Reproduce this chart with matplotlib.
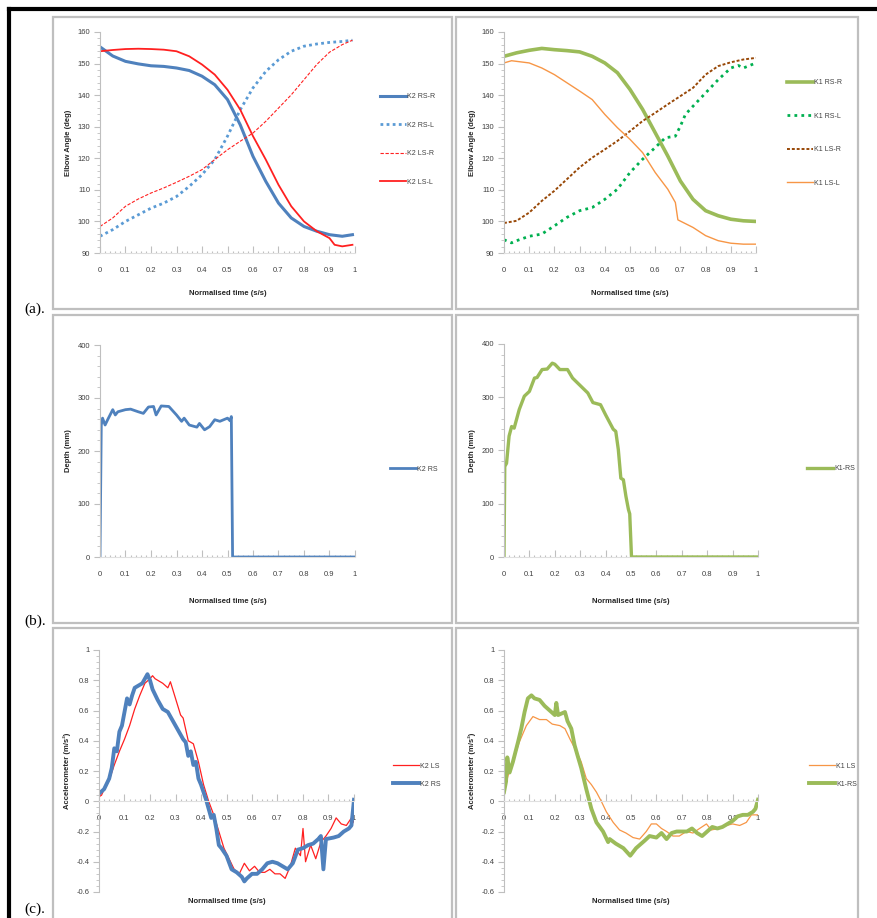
import matplotlib
matplotlib.use("Agg")
from matplotlib import pyplot as plt
from matplotlib.ticker import MultipleLocator, FormatStrFormatter
from matplotlib.patches import Rectangle
from matplotlib.lines import Line2D

plt.rcParams['font.family'] = ['Liberation Sans', 'DejaVu Sans']

# ---- (a) elbow angle, K2 (left) ----
t_k2_angle = [0, 0.05, 0.1, 0.15, 0.2, 0.25, 0.3, 0.35, 0.4, 0.45, 0.5,
              0.55, 0.6, 0.65, 0.7, 0.75, 0.8, 0.85, 0.9, 0.95, 0.99]
k2_rs_r = [155.3, 152.4, 150.7, 149.9, 149.3, 149.1, 148.6, 147.8, 146.0, 143.3, 138.6,
           130.6, 120.6, 112.7, 105.8, 101.1, 98.4, 96.9, 95.8, 95.3, 95.8]
k2_rs_l = [95.3, 97.4, 100.0, 102.1, 104.2, 105.8, 107.9, 111.1, 114.8, 119.6, 127.0,
           135.4, 142.3, 147.5, 151.2, 153.9, 155.5, 156.2, 156.7, 157.0, 157.4]
k2_ls_r = [98.4, 101.1, 104.8, 107.1, 109.0, 110.6, 112.4, 114.3, 116.4, 119.6, 122.7,
           125.4, 128.0, 131.7, 135.9, 140.1, 144.9, 149.7, 153.6, 156.0, 157.4]
t_k2_ls_l = [0, 0.05, 0.1, 0.15, 0.2, 0.25, 0.3, 0.35, 0.4, 0.45, 0.5,
             0.55, 0.6, 0.65, 0.7, 0.75, 0.8, 0.85, 0.9, 0.92, 0.95, 0.99]
k2_ls_l = [153.9, 154.3, 154.6, 154.7, 154.6, 154.4, 153.9, 152.3, 149.7, 146.5, 141.7,
           135.4, 127.0, 119.6, 111.6, 104.8, 100.0, 96.9, 94.7, 92.6, 92.1, 92.6]

# ---- (a) elbow angle, K1 (right) ----
t_k1_angle = [0, 0.05, 0.1, 0.15, 0.2, 0.25, 0.3, 0.35, 0.4, 0.45, 0.5,
              0.55, 0.6, 0.65, 0.7, 0.75, 0.8, 0.85, 0.9, 0.95, 1.0]
k1_rs_r = [152.3, 153.4, 154.2, 154.8, 154.4, 154.1, 153.7, 152.3, 150.2, 147.1, 141.8,
           135.5, 128.1, 120.7, 112.8, 107.0, 103.4, 101.8, 100.7, 100.2, 100.0]
k1_ls_r = [99.5, 100.2, 102.8, 106.5, 109.7, 113.4, 117.1, 120.2, 122.8, 125.5, 128.6,
           131.8, 134.4, 137.1, 139.7, 142.3, 146.5, 149.2, 150.4, 151.3, 151.8]
t_k1_rs_l = [0, 0.03, 0.05, 0.1, 0.15, 0.2, 0.25, 0.3, 0.35, 0.4, 0.45, 0.5, 0.55, 0.6,
             0.64, 0.68, 0.7, 0.72, 0.75, 0.8, 0.85, 0.9, 0.93, 0.95, 1.0]
k1_rs_l = [94.2, 93.2, 93.9, 95.3, 96.0, 98.6, 101.3, 103.4, 104.4, 107.0, 110.2, 115.5, 119.7, 123.4,
           126.5, 127.0, 130.2, 133.9, 136.5, 140.7, 144.9, 148.6, 149.4, 148.6, 150.2]
t_k1_ls_l = [0, 0.03, 0.05, 0.1, 0.15, 0.2, 0.25, 0.3, 0.35, 0.4, 0.45, 0.5, 0.55, 0.6,
             0.65, 0.68, 0.69, 0.75, 0.8, 0.85, 0.9, 0.95, 1.0]
k1_ls_l = [150.2, 150.9, 150.7, 150.2, 148.6, 146.5, 143.9, 141.3, 138.6, 133.9, 129.7, 126.0, 121.8, 115.5,
           110.2, 106.0, 100.5, 98.1, 95.5, 93.9, 93.1, 92.8, 92.8]

# ---- (b) depth ----
t_k2_depth = [0, 0.005, 0.01, 0.02, 0.03, 0.05, 0.06, 0.07, 0.1, 0.12, 0.15, 0.17, 0.19, 0.21,
              0.22, 0.24, 0.27, 0.3, 0.32, 0.33, 0.35, 0.38, 0.39, 0.41, 0.43, 0.45, 0.47,
              0.5, 0.51, 0.515, 0.52, 1.0]
k2_depth = [0, 249, 262, 249, 259, 278, 268, 274, 278, 279, 274, 271, 283, 284,
            268, 285, 284, 268, 256, 262, 249, 245, 252, 240, 246, 259, 256,
            262, 257, 265, 0, 0]
t_k1_depth = [0, 0.003, 0.01, 0.02, 0.03, 0.04, 0.06, 0.08, 0.1, 0.12, 0.13, 0.15, 0.17, 0.19,
              0.2, 0.22, 0.25, 0.27, 0.3, 0.33, 0.35, 0.38, 0.4, 0.43, 0.44, 0.45, 0.46,
              0.47, 0.48, 0.49, 0.495, 0.502, 1.0]
k1_depth = [0, 170, 176, 227, 245, 242, 277, 302, 311, 336, 337, 352, 353, 364,
            362, 352, 352, 336, 322, 308, 290, 286, 267, 240, 236, 202, 148,
            145, 114, 89, 81, 0, 0]

# ---- (c) accelerometer ----
t_k2_rs_acc = [0, 0.02, 0.04, 0.05, 0.06, 0.07, 0.08, 0.09, 0.1, 0.11, 0.12, 0.13, 0.14, 0.16,
               0.17, 0.18, 0.19, 0.2, 0.21, 0.23, 0.25, 0.27, 0.29, 0.31, 0.33, 0.34, 0.35,
               0.36, 0.37, 0.38, 0.39, 0.4, 0.41, 0.42, 0.43, 0.44, 0.45, 0.46, 0.47, 0.48,
               0.5, 0.52, 0.54, 0.56, 0.57, 0.58, 0.6, 0.62, 0.64, 0.66, 0.68, 0.7, 0.72,
               0.74, 0.76, 0.78, 0.8, 0.82, 0.84, 0.86, 0.87, 0.88, 0.89, 0.92, 0.94, 0.96,
               0.98, 0.99, 1.0]
k2_rs_acc = [0.05, 0.08, 0.15, 0.22, 0.35, 0.33, 0.46, 0.50, 0.59, 0.68, 0.64, 0.70, 0.75, 0.77,
             0.78, 0.81, 0.84, 0.80, 0.74, 0.67, 0.61, 0.59, 0.53, 0.47, 0.41, 0.39, 0.30,
             0.33, 0.24, 0.26, 0.15, 0.11, 0.06, 0.01, -0.05, -0.11, -0.09, -0.18, -0.29, -0.31,
             -0.36, -0.45, -0.47, -0.50, -0.53, -0.51, -0.48, -0.48, -0.45, -0.41, -0.40, -0.41, -0.43,
             -0.45, -0.41, -0.32, -0.31, -0.29, -0.28, -0.25, -0.23, -0.45, -0.25, -0.24, -0.23, -0.20,
             -0.18, -0.16, 0.01]
t_k2_ls_acc = [0, 0.01, 0.02, 0.04, 0.06, 0.08, 0.1, 0.12, 0.14, 0.16, 0.18, 0.2, 0.21, 0.22,
               0.24, 0.25, 0.27, 0.28, 0.3, 0.32, 0.33, 0.35, 0.37, 0.39, 0.41, 0.43, 0.45,
               0.47, 0.49, 0.51, 0.53, 0.55, 0.57, 0.59, 0.61, 0.63, 0.65, 0.67, 0.69, 0.71,
               0.73, 0.75, 0.77, 0.79, 0.8, 0.81, 0.83, 0.85, 0.87, 0.89, 0.91, 0.93, 0.95,
               0.97, 0.99, 1.0]
k2_ls_acc = [0.03, 0.04, 0.08, 0.14, 0.24, 0.33, 0.41, 0.50, 0.61, 0.70, 0.78, 0.81, 0.83, 0.81,
             0.79, 0.78, 0.75, 0.79, 0.68, 0.57, 0.55, 0.40, 0.38, 0.26, 0.11, 0.00, -0.09,
             -0.20, -0.31, -0.38, -0.45, -0.48, -0.41, -0.46, -0.43, -0.47, -0.47, -0.45, -0.48, -0.48,
             -0.51, -0.43, -0.31, -0.36, -0.18, -0.40, -0.29, -0.38, -0.27, -0.23, -0.18, -0.11, -0.15,
             -0.16, -0.11, -0.14]
t_k1_rs_acc = [0, 0.008, 0.013, 0.022, 0.035, 0.055, 0.068, 0.081, 0.094, 0.108, 0.12, 0.14,
               0.16, 0.18, 0.2, 0.206, 0.213, 0.24, 0.25, 0.265, 0.278, 0.29, 0.304, 0.324,
               0.344, 0.364, 0.39, 0.41, 0.416, 0.44, 0.47, 0.497, 0.52, 0.554, 0.573, 0.6,
               0.62, 0.64, 0.66, 0.68, 0.7, 0.72, 0.74, 0.76, 0.78, 0.8, 0.82, 0.84, 0.86,
               0.88, 0.9, 0.92, 0.94, 0.96, 0.98, 0.99, 1.0]
k1_rs_acc = [0.06, 0.13, 0.29, 0.19, 0.26, 0.39, 0.48, 0.59, 0.68, 0.70, 0.68, 0.67,
             0.63, 0.60, 0.57, 0.65, 0.57, 0.59, 0.53, 0.48, 0.37, 0.30, 0.22, 0.08,
             -0.05, -0.14, -0.20, -0.27, -0.25, -0.28, -0.31, -0.36, -0.31, -0.26, -0.23, -0.24,
             -0.21, -0.25, -0.21, -0.20, -0.20, -0.20, -0.18, -0.21, -0.23, -0.20, -0.17, -0.18, -0.17,
             -0.15, -0.13, -0.10, -0.09, -0.09, -0.07, -0.05, 0.01]
t_k1_ls_acc = [0, 0.016, 0.035, 0.06, 0.088, 0.114, 0.14, 0.167, 0.19, 0.22, 0.24, 0.26, 0.285,
               0.304, 0.324, 0.344, 0.364, 0.383, 0.403, 0.43, 0.455, 0.48, 0.508, 0.534, 0.56,
               0.58, 0.6, 0.62, 0.64, 0.665, 0.69, 0.718, 0.744, 0.77, 0.797, 0.816, 0.843,
               0.875, 0.9, 0.928, 0.954, 0.974, 1.0]
k1_ls_acc = [0.06, 0.17, 0.26, 0.39, 0.50, 0.56, 0.54, 0.54, 0.51, 0.50, 0.48, 0.41, 0.33,
             0.26, 0.15, 0.11, 0.06, 0.00, -0.07, -0.14, -0.19, -0.21, -0.24, -0.25, -0.20,
             -0.15, -0.15, -0.18, -0.20, -0.23, -0.23, -0.20, -0.21, -0.18, -0.15, -0.19, -0.18,
             -0.16, -0.15, -0.16, -0.14, -0.09, -0.09]

BLUE = '#4F81BD'
LBLUE = '#5B9BD5'
RED = '#FF2020'
GREEN = '#9BBB59'
DGREEN = '#00B050'
BROWN = '#984807'
ORANGE = '#F79646'
GREY = '#BFBFBF'
TXT = '#404040'

W, H = 878, 918
fig = plt.figure(figsize=(W / 100, H / 100), dpi=100)
fig.patch.set_facecolor('white')


def px_axes(x0, x1, ytop, ybot):
    return fig.add_axes([x0 / W, 1 - ybot / H, (x1 - x0) / W, (ybot - ytop) / H])


def style(ax, ymin, ymax, ymajor, ylabel, xlabel_y, xaxis_at_zero=False):
    ax.set_xlim(0, 1)
    ax.set_ylim(ymin, ymax)
    ax.patch.set_alpha(0)
    ax.spines['top'].set_visible(False)
    ax.spines['right'].set_visible(False)
    ax.spines['left'].set_color(GREY)
    ax.spines['bottom'].set_color('#E0E0E0')
    ax.spines['left'].set_linewidth(0.8)
    ax.spines['bottom'].set_linewidth(0.8)
    if xaxis_at_zero:
        ax.spines['bottom'].set_position(('data', 0))
    ax.xaxis.set_major_locator(MultipleLocator(0.1))
    ax.xaxis.set_minor_locator(MultipleLocator(0.02))
    ax.yaxis.set_major_locator(MultipleLocator(ymajor))
    ax.yaxis.set_minor_locator(MultipleLocator(ymajor / 5))
    ax.xaxis.set_major_formatter(FormatStrFormatter('%g'))
    ax.yaxis.set_major_formatter(FormatStrFormatter('%g'))
    ax.tick_params(axis='x', which='major', direction='in', length=5, width=0.8, color=GREY,
                   pad=10, labelsize=5.5, labelcolor=TXT)
    ax.tick_params(axis='x', which='minor', direction='in', length=1.5, width=0.8, color=GREY)
    ax.tick_params(axis='y', which='major', direction='out', length=4, width=0.8, color=GREY,
                   pad=3, labelsize=5.5, labelcolor=TXT)
    ax.tick_params(axis='y', which='minor', direction='out', length=2, width=0.6, color=GREY)
    ax.set_ylabel(ylabel, fontsize=5.5, fontweight='bold', color='#262626', labelpad=4)
    ax.set_xlabel('Normalised time (s/s)', fontsize=5.5, fontweight='bold', color='#262626')
    ax.xaxis.set_label_coords(0.5, xlabel_y)
    ax.xaxis.label.set_va('center')


def legend(ax, x, y, spacing):
    ax.legend(loc='center left', bbox_to_anchor=(x, y), frameon=False, fontsize=5,
              labelspacing=spacing, handlelength=3.8, handletextpad=0.1,
              borderpad=0, borderaxespad=0, labelcolor=TXT)


# panel frames
for (x0, x1, y0, y1) in [(53, 452, 17, 309), (456, 858, 17, 309),
                         (53, 452, 315, 623), (456, 858, 315, 623),
                         (53, 452, 628, 930), (456, 858, 628, 930)]:
    fig.add_artist(Rectangle((x0 / W, 1 - y1 / H), (x1 - x0) / W, (y1 - y0) / H,
                             transform=fig.transFigure, fill=False, ec=GREY, lw=1.6))

# black page frame
fig.add_artist(Line2D([9 / W, 9 / W], [0, 1 - 9 / H], transform=fig.transFigure, color='black', lw=3))
fig.add_artist(Line2D([9 / W, 1], [1 - 9 / H, 1 - 9 / H], transform=fig.transFigure, color='black', lw=3))

# (a) left
ax = px_axes(100, 355, 32, 253)
style(ax, 90, 160, 10, 'Elbow Angle (deg)', -0.181)
ax.plot(t_k2_angle, k2_rs_r, color=BLUE, lw=2.2, label='K2 RS-R')
ax.plot(t_k2_angle, k2_rs_l, color=LBLUE, lw=2.0, ls=(0, (1, 1.2)), label='K2 RS-L')
ax.plot(t_k2_angle, k2_ls_r, color=RED, lw=0.8, ls=(0, (3, 1.5)), label='K2 LS-R')
ax.plot(t_k2_ls_l, k2_ls_l, color=RED, lw=1.3, label='K2 LS-L')
legend(ax, 1.098, 0.514, 3.1)

# (a) right
ax = px_axes(504, 756, 32, 253)
style(ax, 90, 160, 10, 'Elbow Angle (deg)', -0.181)
ax.plot(t_k1_angle, k1_rs_r, color=GREEN, lw=2.6, label='K1 RS-R')
ax.plot(t_k1_rs_l, k1_rs_l, color=DGREEN, lw=2.0, ls=(0, (1, 1.5)), label='K1 RS-L')
ax.plot(t_k1_angle, k1_ls_r, color=BROWN, lw=1.4, ls=(0, (1.5, 1)), label='K1 LS-R')
ax.plot(t_k1_ls_l, k1_ls_l, color=ORANGE, lw=1.0, label='K1 LS-L')
legend(ax, 1.123, 0.543, 3.8)

# (b) left
ax = px_axes(100, 355, 345, 557)
style(ax, 0, 400, 100, 'Depth (mm)', -0.208)
ax.plot(t_k2_depth, k2_depth, color=BLUE, lw=2.0, label='K2 RS')
legend(ax, 1.137, 0.415, 1)

# (b) right
ax = px_axes(504, 758, 344, 557)
style(ax, 0, 400, 100, 'Depth (mm)', -0.208)
ax.plot(t_k1_depth, k1_depth, color=GREEN, lw=2.4, label='K1-RS')
legend(ax, 1.193, 0.415, 1)

# (c) left
ax = px_axes(99, 354, 650, 892)
style(ax, -0.6, 1.0, 0.2, 'Accelerometer (m/s²)', -0.04, xaxis_at_zero=True)
ax.plot(t_k2_ls_acc, k2_ls_acc, color=RED, lw=0.9, label='K2 LS')
ax.plot(t_k2_rs_acc, k2_rs_acc, color=BLUE, lw=2.8, label='K2 RS')
legend(ax, 1.153, 0.482, 1.6)

# (c) right
ax = px_axes(504, 758, 650, 892)
style(ax, -0.6, 1.0, 0.2, 'Accelerometer (m/s²)', -0.04, xaxis_at_zero=True)
ax.plot(t_k1_ls_acc, k1_ls_acc, color=ORANGE, lw=0.9, label='K1 LS')
ax.plot(t_k1_rs_acc, k1_rs_acc, color=GREEN, lw=2.8, label='K1-RS')
legend(ax, 1.2, 0.482, 1.6)

# row labels
for lab, yb in [('(a).', 313), ('(b).', 625), ('(c).', 913)]:
    fig.text(24 / W, 1 - yb / H, lab, fontsize=11, family='Liberation Serif', va='baseline', ha='left')

fig.savefig('out.png', dpi=100)
